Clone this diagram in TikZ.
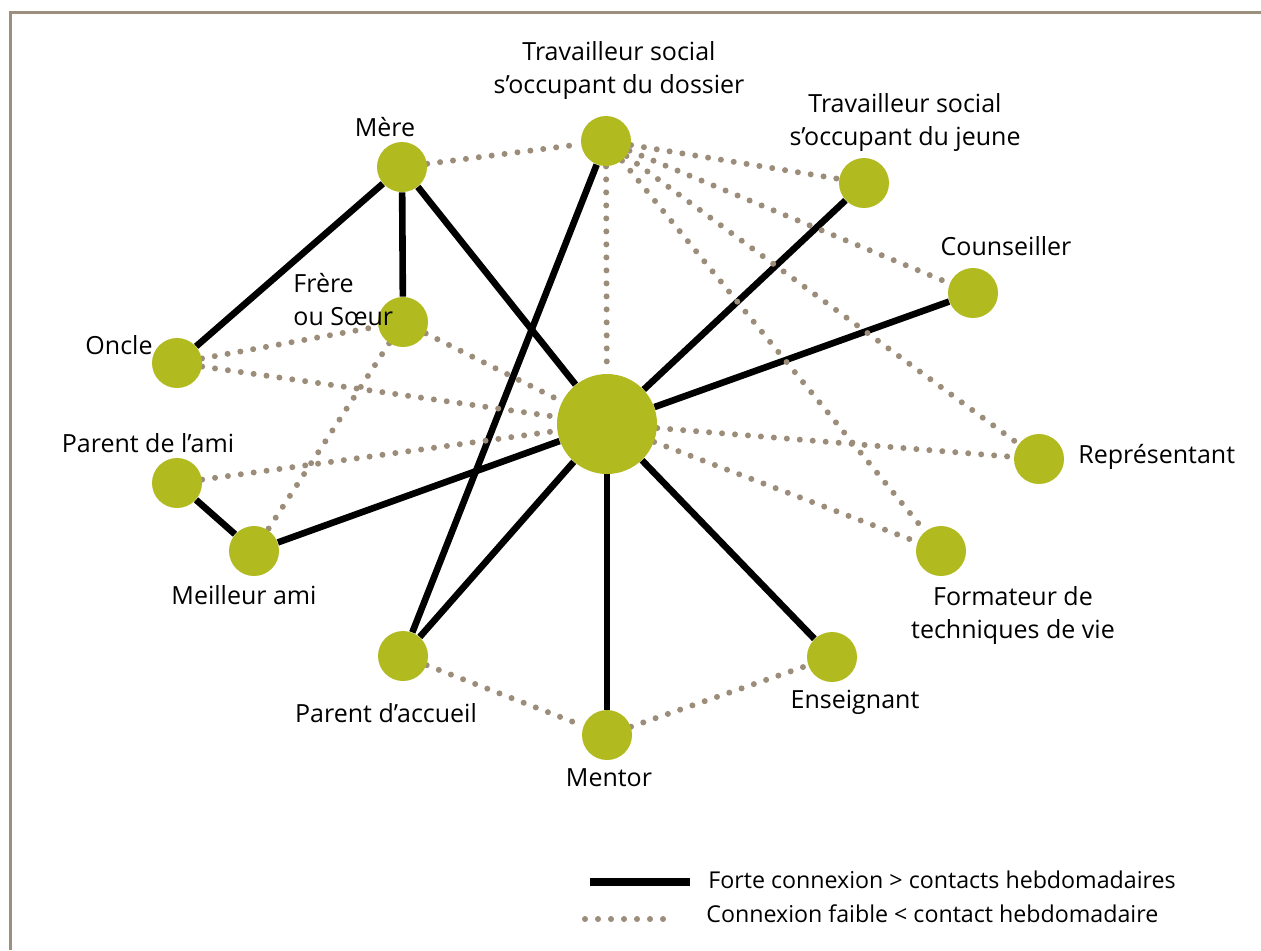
\documentclass[tikz,border=0pt]{standalone}
\usepackage{fontspec}
\setmainfont{Open Sans}
\usetikzlibrary{backgrounds}
\definecolor{nodegreen}{HTML}{B1BA1F}
\definecolor{dotgray}{HTML}{9C8D7A}
\definecolor{framegray}{HTML}{9B8F7E}

\begin{document}
\begin{tikzpicture}[x=0.5pt,y=-0.5pt,
    pers/.style={circle, fill=nodegreen, minimum size=25pt, inner sep=0pt},
    ego/.style={pers, minimum size=50pt},
    forte/.style={line width=3.3pt, black},
    faible/.style={line width=3pt, dotgray, line cap=round, dash pattern=on 0pt off 6.5pt},
    lbl/.style={font=\fontsize{12.5}{16.5}\selectfont, align=center, inner sep=0pt},
    leg/.style={lbl, font=\fontsize{11.6}{14}\selectfont, anchor=west},
    frame/.style={framegray, line width=1.5pt}
]
    \useasboundingbox (0,0) rectangle (1261,950);
    \draw[frame] (10,950) -- (10,12) -- (1261,12);

    % people
    \node[ego]  (jeune)      at (607,424) {};
    \node[pers] (mere)       at (402,167) {};
    \node[pers] (tsdossier)  at (606,141) {};
    \node[pers] (tsjeune)    at (864,183) {};
    \node[pers] (conseiller) at (973,293) {};
    \node[pers] (repr)       at (1039,459) {};
    \node[pers] (formateur)  at (941,551) {};
    \node[pers] (enseignant) at (832,657) {};
    \node[pers] (mentor)     at (607,735) {};
    \node[pers] (paccueil)   at (403,656) {};
    \node[pers] (meilleur)   at (254,551) {};
    \node[pers] (pami)       at (177,483) {};
    \node[pers] (oncle)      at (177,363) {};
    \node[pers] (frere)      at (403,322) {};

    % labels
    \node[lbl] (mereL)       at (385,127) {Mère};
    \node[lbl] (tsdossierL)  at (619,70)  {Travailleur social\\s’occupant du dossier};
    \node[lbl] (tsjeuneL)    at (905,122) {Travailleur social\\s’occupant du jeune};
    \node[lbl] (conseillerL) at (1006,246) {Counseiller};
    \node[lbl, anchor=west] (reprL) at (1078,457) {Représentant};
    \node[lbl] (formateurL)  at (1013,615) {Formateur de\\techniques de vie};
    \node[lbl] (enseignantL) at (855,702) {Enseignant};
    \node[lbl] (mentorL)     at (609,778) {Mentor};
    \node[lbl] (paccueilL)   at (386,713) {Parent d’accueil};
    \node[lbl] (meilleurL)   at (244,595) {Meilleur ami};
    \node[lbl] (pamiL)       at (148,443) {Parent de l’ami};
    \node[lbl] (oncleL)      at (119,345) {Oncle};
    \node[lbl, align=left, anchor=west] (frereL) at (293,300) {Frère\\ou Sœur};

    % connexions
    \begin{scope}[on background layer]
        \foreach \a/\b in {mere/oncle, mere/frere, mere/jeune, tsdossier/paccueil,
            jeune/tsjeune, jeune/conseiller, jeune/meilleur, jeune/paccueil,
            jeune/mentor, jeune/enseignant, pami/meilleur}
            \draw[forte] (\a) -- (\b);
        \foreach \a/\b in {mere/tsdossier, tsdossier/tsjeune, tsdossier/conseiller,
            tsdossier/repr, tsdossier/formateur, tsdossier/jeune, oncle/frere,
            oncle/jeune, frere/jeune, frere/meilleur, pami/jeune, jeune/repr,
            jeune/formateur, paccueil/mentor, mentor/enseignant}
            \draw[faible] (\a) -- (\b);
    \end{scope}

    % legend
    \coordinate (forteA) at (590,882);
    \coordinate (forteB) at (690,882);
    \coordinate (faibleA) at (585,919);
    \coordinate (faibleB) at (668,919);
    \draw[forte, line width=3.6pt] (forteA) -- (forteB);
    \draw[faible] (faibleA) -- (faibleB);
    \node[leg] (forteT)  at (708,880) {Forte connexion > contacts hebdomadaires};
    \node[leg] (faibleT) at (706,914) {Connexion faible < contact hebdomadaire};
\end{tikzpicture}
\end{document}
